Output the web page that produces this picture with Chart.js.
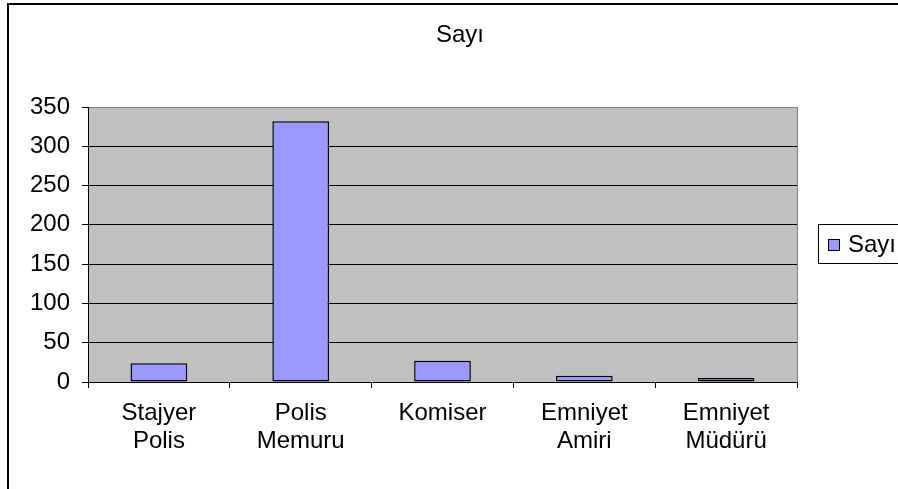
<!DOCTYPE html>
<html>
<head>
<meta charset="utf-8">
<script src="https://cdn.jsdelivr.net/npm/chart.js@4.4.1/dist/chart.umd.min.js"></script>
<style>
  html, body { margin: 0; padding: 0; background: #fff; }
  #wrap { width: 898px; height: 489px; position: relative; }
</style>
</head>
<body>
<div id="wrap"><canvas id="c"></canvas></div>
<script>
const categories = [['Stajyer', 'Polis'], ['Polis', 'Memuru'], 'Komiser', ['Emniyet', 'Amiri'], ['Emniyet', 'Müdürü']];
const seriesName = 'Sayı';
const counts = [24, 332, 27, 8, 5];
const yTicks = [0, 50, 100, 150, 200, 250, 300, 350];

const FONT = "'Liberation Sans', Arial, sans-serif";
const BAR = '#9999FF';
const PLOT_BG = '#C0C0C0';

//plot background, frame, title and legend
const decor = {
  id: 'decor',
  beforeDraw(chart) {
    const { ctx, chartArea: a } = chart;
    ctx.save();
    ctx.fillStyle = '#fff';
    ctx.fillRect(0, 0, chart.width, chart.height);
    ctx.fillStyle = PLOT_BG;
    ctx.fillRect(a.left, a.top, a.right - a.left, a.bottom - a.top);
    ctx.restore();
  },
  afterDraw(chart) {
    const { ctx, chartArea: a } = chart;
    ctx.save();
    // right edge of plot
    ctx.strokeStyle = '#808080';
    ctx.lineWidth = 1;
    ctx.beginPath();
    ctx.moveTo(a.right + 0.5, a.top);
    ctx.lineTo(a.right + 0.5, a.bottom);
    ctx.stroke();
    // outer chart border (cut off on right and bottom)
    ctx.strokeStyle = '#000';
    ctx.lineWidth = 2;
    ctx.strokeRect(8, 4, 1200, 1200);
    // title
    ctx.fillStyle = '#000';
    ctx.font = '24px ' + FONT;
    ctx.textAlign = 'center';
    ctx.textBaseline = 'middle';
    ctx.fillText(seriesName, 460, 35);
    // legend
    const ds = chart.data.datasets[0];
    ctx.lineWidth = 1;
    ctx.strokeRect(818.5, 224.5, 200, 39);
    ctx.fillStyle = ds.backgroundColor;
    ctx.fillRect(828, 239, 12, 12);
    ctx.strokeRect(828.5, 239.5, 11, 11);
    ctx.fillStyle = '#000';
    ctx.textAlign = 'left';
    ctx.fillText(ds.label, 848, 245);
    ctx.restore();
  }
};

new Chart(document.getElementById('c'), {
  type: 'bar',
  data: {
    labels: categories,
    datasets: [{
      label: seriesName,
      data: counts,
      backgroundColor: BAR,
      borderColor: '#000',
      borderWidth: 1.5,
      borderSkipped: false,
      barPercentage: 0.4,
      categoryPercentage: 1.0,
    }]
  },
  options: {
    responsive: true,
    maintainAspectRatio: false,
    animation: false,
    devicePixelRatio: 1,
    layout: { padding: { left: 0, top: 107, right: 101, bottom: 0 } },
    plugins: {
      legend: { display: false },
      title: { display: false },
      tooltip: { enabled: false }
    },
    scales: {
      x: {
        offset: true,
        afterFit: s => { s.height = 107; },
        grid: {
          offset: true,
          drawOnChartArea: false,
          drawTicks: true,
          tickLength: 6,
          color: '#000',
          lineWidth: 1
        },
        border: { color: '#000', width: 1 },
        ticks: {
          color: '#000',
          padding: 11,
          maxRotation: 0,
          autoSkip: false,
          font: { family: FONT, size: 24, lineHeight: 1.17 }
        }
      },
      y: {
        min: 0,
        max: 350,
        afterFit: s => { s.width = 88; },
        afterBuildTicks: s => { s.ticks = yTicks.map(v => ({ value: v })); },
        grid: {
          color: ctx => (ctx.tick && ctx.tick.value === 350 ? '#808080' : '#000'),
          lineWidth: 1,
          drawTicks: true,
          tickLength: 6,
          tickColor: '#000'
        },
        border: { color: '#000', width: 1 },
        ticks: {
          color: '#000',
          padding: 12,
          font: { family: FONT, size: 24 }
        }
      }
    }
  },
  plugins: [decor]
});
</script>
</body>
</html>
